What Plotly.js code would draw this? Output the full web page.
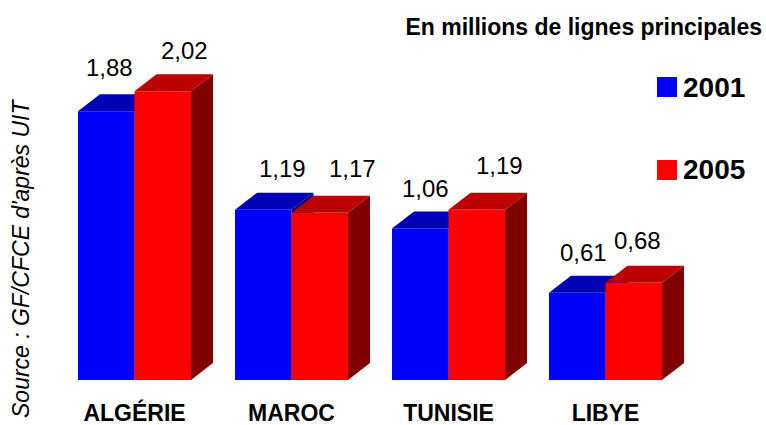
<!DOCTYPE html>
<html>
<head>
<meta charset="utf-8">
<script src="https://cdn.plot.ly/plotly-3.0.1.min.js"></script>
<style>
  html, body { margin: 0; padding: 0; background: #ffffff; }
  #chart { width: 766px; height: 425px; }
</style>
</head>
<body>
<div id="chart"></div>
<script>
// ---------------- data ----------------
const categories = ['ALGÉRIE', 'MAROC', 'TUNISIE', 'LIBYE'];
const seriesNames = ['2001', '2005'];
const values2001 = [1.88, 1.19, 1.06, 0.61];
const values2005 = [2.02, 1.17, 1.19, 0.68];
const titleText = 'En millions de lignes principales';
const sourceText = "Source : GF/CFCE d'après UIT";

// ---------------- style / layout constants ----------------
const FONT = 'Liberation Sans, Arial, Helvetica, sans-serif';
const W = 766, H = 425;
const M = { l: 0, r: 0, t: 0, b: 45 };
const plotW = W - M.l - M.r, plotH = H - M.t - M.b;
const X_ORIGIN_PX = 134.5, PX_PER_X = 157, PX_PER_Y = 143;
const DEPTH_X_PX = 22, DEPTH_Y_PX = 17;
const BAR_W = 0.36;
const colors = {
  front: ['#0000ff', '#ff0000'],
  top:   ['#0000b6', '#bd0000'],
  side:  ['#000080', '#800000']
};
// per-label pixel nudges [xshift, yshift] (label placement in the original)
const labelNudge2001 = [[3, 44], [19, 41], [5, 40], [6, 40]];
const labelNudge2005 = [[22, 41], [33, 44], [23, 44], [4, 42]];

const xRange = [-X_ORIGIN_PX / PX_PER_X, (plotW - X_ORIGIN_PX) / PX_PER_X];
const yRange = [0, plotH / PX_PER_Y];
const dX = DEPTH_X_PX / PX_PER_X;
const dY = DEPTH_Y_PX / PX_PER_Y;
const px2paperX = px => (px - M.l) / plotW;
const py2paperY = py => (H - M.b - py) / plotH;
const fmt = v => v.toFixed(2).replace('.', ',');

const xs = categories.map((c, i) => i);
const allValues = [values2001, values2005];

// ---------------- traces (front faces) ----------------
const traces = allValues.map((vals, s) => ({
  type: 'bar',
  name: seriesNames[s],
  x: xs,
  y: vals,
  marker: { color: colors.front[s], line: { width: 0 } },
  hoverinfo: 'skip',
  showlegend: false
}));

// ---------------- 3D faces (shapes in data coords) ----------------
const shapes = [];
xs.forEach((cx, i) => {
  allValues.forEach((vals, s) => {
    const v = vals[i];
    const x0 = cx + (s === 0 ? -BAR_W : 0);
    const x1 = x0 + BAR_W;
    // side face
    shapes.push({
      type: 'path', xref: 'x', yref: 'y', layer: 'below',
      path: `M${x1},0 L${x1 + dX},${dY} L${x1 + dX},${v + dY} L${x1},${v} Z`,
      fillcolor: colors.side[s], line: { width: 0 }
    });
    // top face
    shapes.push({
      type: 'path', xref: 'x', yref: 'y', layer: 'below',
      path: `M${x0},${v} L${x0 + dX},${v + dY} L${x1 + dX},${v + dY} L${x1},${v} Z`,
      fillcolor: colors.top[s], line: { width: 0 }
    });
  });
});

// ---------------- legend (manual) ----------------
const legendPos = [{ x: 657, y: 77 }, { x: 657, y: 160 }];
const annotations = [];
seriesNames.forEach((nm, s) => {
  const p = legendPos[s];
  shapes.push({
    type: 'rect', xref: 'paper', yref: 'paper', layer: 'above',
    x0: px2paperX(p.x), x1: px2paperX(p.x + 20),
    y0: py2paperY(p.y + 20), y1: py2paperY(p.y),
    fillcolor: colors.front[s], line: { width: 0 }
  });
  annotations.push({
    xref: 'paper', yref: 'paper', showarrow: false,
    x: px2paperX(p.x + 24), y: py2paperY(p.y + 10),
    xanchor: 'left', yanchor: 'middle',
    text: '<b>' + nm + '</b>',
    font: { family: FONT, size: 28, color: '#000000' }
  });
});

// ---------------- value labels ----------------
xs.forEach((cx, i) => {
  allValues.forEach((vals, s) => {
    const nudge = (s === 0 ? labelNudge2001 : labelNudge2005)[i];
    annotations.push({
      xref: 'x', yref: 'y', showarrow: false,
      x: cx + (s === 0 ? -BAR_W / 2 : BAR_W / 2),
      y: vals[i],
      xshift: nudge[0], yshift: nudge[1],
      xanchor: 'center', yanchor: 'middle',
      text: fmt(vals[i]),
      font: { family: FONT, size: 24, color: '#000000' }
    });
  });
});

// ---------------- source ----------------
annotations.push({
  xref: 'paper', yref: 'paper', showarrow: false,
  x: px2paperX(21), y: py2paperY(259),
  xanchor: 'center', yanchor: 'middle',
  textangle: -90,
  text: '<i>' + sourceText + '</i>',
  font: { family: FONT, size: 23, color: '#000000' }
});

const layout = {
  width: W, height: H,
  margin: M,
  paper_bgcolor: '#ffffff',
  plot_bgcolor: 'rgba(0,0,0,0)',
  barmode: 'group',
  bargap: 1 - 2 * BAR_W,
  bargroupgap: 0,
  showlegend: false,
  title: {
    text: '<b>' + titleText + '</b>',
    x: 762 / W, xanchor: 'right',
    y: 1 - 27 / H, yanchor: 'middle',
    font: { family: FONT, size: 23, color: '#000000' }
  },
  xaxis: {
    type: 'linear',
    range: xRange,
    tickvals: xs,
    ticktext: categories.map(c => '<b>' + c + '</b>'),
    ticks: 'outside', ticklen: 12, tickcolor: 'rgba(0,0,0,0)',
    tickfont: { family: FONT, size: 23, color: '#000000' },
    showgrid: false, zeroline: false, showline: false,
    fixedrange: true
  },
  yaxis: {
    range: yRange,
    visible: false,
    showgrid: false, zeroline: false,
    fixedrange: true
  },
  shapes: shapes,
  annotations: annotations
};

Plotly.newPlot('chart', traces, layout, { displayModeBar: false, staticPlot: true });
</script>
</body>
</html>
